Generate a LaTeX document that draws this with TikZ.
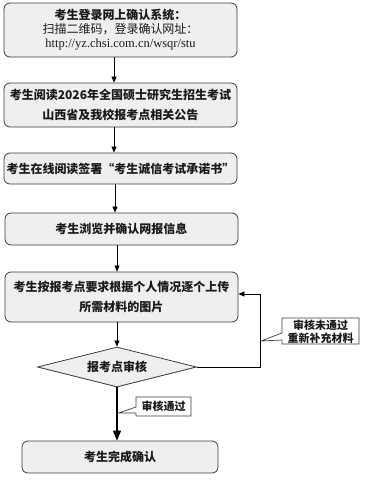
\documentclass[tikz,border=0pt]{standalone}
\usepackage{fontspec}
\usetikzlibrary{shapes.geometric,arrows.meta}
\newfontfamily\cjk{Noto Sans CJK SC}
\newfontfamily\urlfont{Liberation Serif}
\definecolor{boxline}{HTML}{3C3C3C}
\definecolor{boxfill}{HTML}{EFEFEF}
\definecolor{txt}{HTML}{1A1A1A}
\tikzset{
  x=1pt,y=-1pt,
  stepbox/.style={draw=boxline,fill=boxfill,line width=0.8pt,rounded corners=6pt,
    minimum width=233pt,inner sep=0pt,align=center,text=txt,
    font=\cjk\bfseries\fontsize{12}{20}\selectfont},
  decide/.style={diamond,draw=boxline,fill=boxfill,line width=0.8pt,aspect=4,
    minimum width=159pt,minimum height=40pt,inner sep=0pt,text=txt,
    font=\cjk\bfseries\fontsize{12}{14}\selectfont},
  arr/.style={draw=black,line width=0.7pt,-{Triangle[length=6pt,width=5pt]}},
  bigarr/.style={draw=black,line width=1.2pt,-{Triangle[length=10pt,width=8pt]}},
  callout/.style={draw=boxline,fill=white,line width=0.7pt},
  calltext/.style={text=txt,align=center,inner sep=0pt,
    font=\cjk\bfseries\fontsize{11}{13}\selectfont},
}
\begin{document}
\begin{tikzpicture}
\useasboundingbox (0,0) rectangle (369,480);
\node[stepbox,minimum height=54pt] (b1) at (120.5,30)
  {考生登录网上确认系统：\\[-6pt]{\mdseries 扫描二维码，登录确认网址：}\\[-6pt]{\urlfont\mdseries\fontsize{12.5}{20}\selectfont http://yz.chsi.com.cn/wsqr/stu}};
\node[stepbox,minimum height=44pt] (b2) at (120.5,105)
  {考生阅读2026年全国硕士研究生招生考试\\山西省及我校报考点相关公告};
\node[stepbox,minimum height=31pt] (b3) at (120.5,168.5)
  {考生在线阅读签署“考生诚信考试承诺书”};
\node[stepbox,minimum height=32pt] (b4) at (121.5,229)
  {考生浏览并确认网报信息};
\node[stepbox,minimum height=50pt] (b5) at (121.5,297)
  {考生按报考点要求根据个人情况逐个上传\\所需材料的图片};
\node[decide] (d) at (117,367) {报考点审核};
\node[stepbox,minimum width=196pt,minimum height=32pt] (b6) at (120,457)
  {考生完成确认};
\coordinate (a1) at (114,0);
\coordinate (a2) at (115,0);
\coordinate (a3) at (117,0);
\coordinate (fb) at (260,294);
\draw[arr] (b1.south -| a1) -- (b2.north -| a1);
\draw[arr] (b2.south -| a1) -- (b3.north -| a1);
\draw[arr] (b3.south -| a2) -- (b4.north -| a2);
\draw[arr] (b4.south -| a3) -- (b5.north -| a3);
\draw[arr] (b5.south -| d.north) -- (d.north);
\draw[bigarr] (d.south) -- (b6.north -| d.south);
\draw[arr] (d.east) -| (fb) -- (fb -| b5.east);
% callout 1
\coordinate (t1) at (261,341);
\draw[callout] (282,318) -- (359,318) -- (359,344) -- (282,344) -- (282,340) -- (t1) -- (282,333) -- cycle;
\node[calltext] (c1) at (320.5,331.5) {审核未通过\\重新补充材料};
% callout 2
\coordinate (t2) at (118.5,413);
\draw[callout] (136,397) -- (191,397) -- (191,416) -- (136,416) -- (136,413) -- (t2) -- (136,407) -- cycle;
\node[calltext] (c2) at (163.5,406.5) {审核通过};
\end{tikzpicture}
\end{document}
